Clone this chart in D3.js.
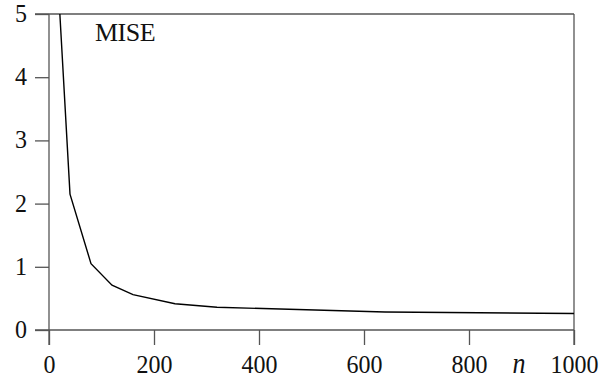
<!DOCTYPE html>
<html>
<head>
<meta charset="utf-8">
<script src="https://cdn.jsdelivr.net/npm/d3@7"></script>
<style>
  body { margin: 0; background: #fff; }
  text { font-family: "Liberation Serif", "Times New Roman", serif; fill: #111; }
</style>
</head>
<body>
<div id="chart"></div>
<script>
// sample sizes and MISE values
const nValues = [20, 40, 80, 120, 160, 240, 320, 640, 1000];
const miseValues = [5.1, 2.15, 1.05, 0.71, 0.56, 0.415, 0.36, 0.285, 0.26];
const xTicks = [0, 200, 400, 600, 800, 1000];
const yTicks = [0, 1, 2, 3, 4, 5];

const width = 610, height = 380;
const margin = { top: 14, right: 36, bottom: 50, left: 49 };
const serif = "'Liberation Serif', 'Times New Roman', serif";

const svg = d3.select("#chart").append("svg")
    .attr("width", width)
    .attr("height", height);

const x = d3.scaleLinear().domain([0, 1000]).range([margin.left, width - margin.right]);
const y = d3.scaleLinear().domain([0, 5]).range([height - margin.bottom, margin.top]);

const axisColor = "#555";

// clip the curve to the frame
svg.append("clipPath").attr("id", "clip")
  .append("rect")
    .attr("x", x(0)).attr("y", y(5))
    .attr("width", x(1000) - x(0)).attr("height", y(0) - y(5));

// frame: top and right lines
svg.append("line")
    .attr("x1", x(0) - 14).attr("x2", x(1000))
    .attr("y1", y(5)).attr("y2", y(5))
    .attr("stroke", axisColor).attr("stroke-width", 1.3);
svg.append("line")
    .attr("x1", x(1000)).attr("x2", x(1000))
    .attr("y1", y(5)).attr("y2", y(0) + 15)
    .attr("stroke", axisColor).attr("stroke-width", 1.3);

// bottom axis
const xAxis = svg.append("g")
    .attr("transform", `translate(0,${y(0)})`)
    .call(d3.axisBottom(x).tickValues(xTicks).tickFormat(d3.format("d"))
      .tickSize(15).tickSizeOuter(0));

// left axis
const yAxis = svg.append("g")
    .attr("transform", `translate(${x(0)},0)`)
    .call(d3.axisLeft(y).tickValues(yTicks).tickFormat(d3.format("d"))
      .tickSize(14).tickSizeOuter(0));

[xAxis, yAxis].forEach(g => {
  g.attr("font-family", serif);
  g.select(".domain").attr("stroke", axisColor).attr("stroke-width", 1.3);
  g.selectAll(".tick line").attr("stroke", axisColor).attr("stroke-width", 1.3);
  g.selectAll(".tick text")
    .style("font-family", serif)
    .style("font-size", "24px")
    .attr("fill", "#111")
    .attr("x", 0).attr("y", 0).attr("dy", null);
});
// glyphs in the reference are a little taller than they are wide
xAxis.selectAll(".tick text").attr("transform", "translate(0,43) scale(1,1.08)");
yAxis.selectAll(".tick text").attr("transform", "translate(-22,7.5) scale(1,1.08)");
xAxis.select(".domain").attr("d", `M${x(0) - 14},0H${x(1000)}`);
yAxis.select(".domain").attr("d", `M0,${y(0) + 15}V${y(5)}`);

// the MISE curve
const line = d3.line()
    .x((d, i) => x(nValues[i]))
    .y(d => y(d));

svg.append("path")
    .datum(miseValues)
    .attr("clip-path", "url(#clip)")
    .attr("fill", "none")
    .attr("stroke", "#000")
    .attr("stroke-width", 1.4)
    .attr("d", line);

// labels
svg.append("text")
    .attr("x", 95).attr("y", 41)
    .style("font-family", serif)
    .style("font-size", "26px")
    .style("letter-spacing", "-0.5px")
    .text("MISE");

svg.append("text")
    .attr("transform", "translate(519,373) scale(1,1.1)")
    .attr("text-anchor", "middle")
    .style("font-family", serif)
    .style("font-size", "26px")
    .style("font-style", "italic")
    .text("n");
</script>
</body>
</html>
